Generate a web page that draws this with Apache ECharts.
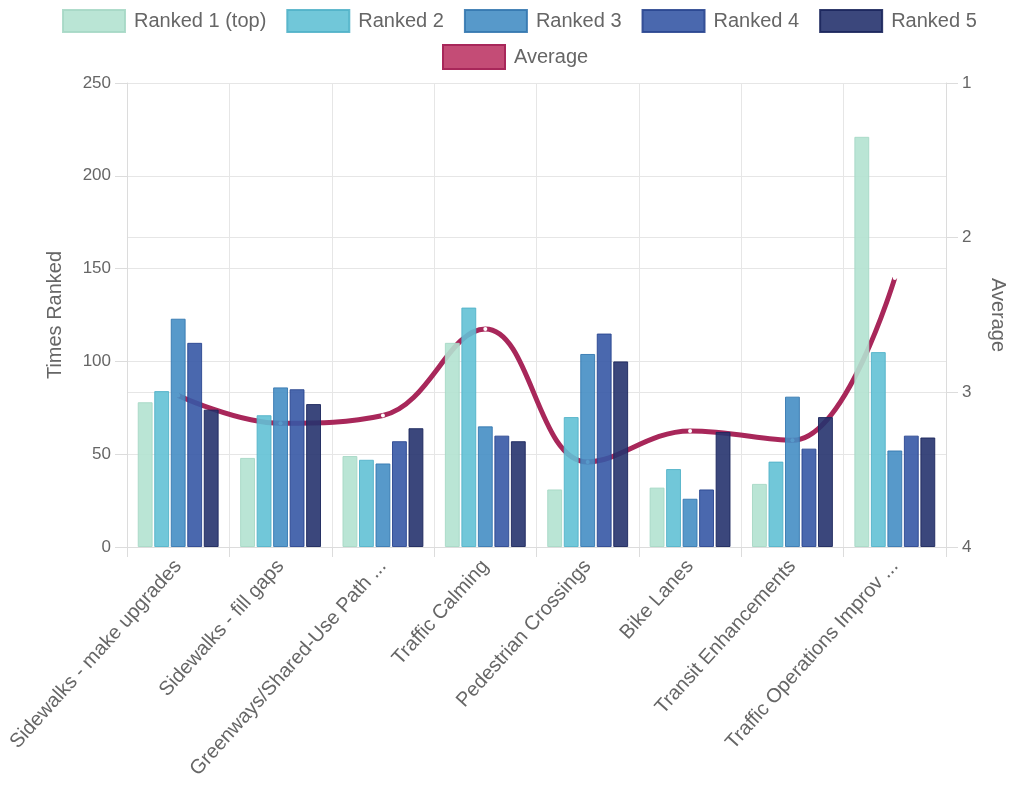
<!DOCTYPE html>
<html>
<head>
<meta charset="utf-8">
<script src="https://cdn.jsdelivr.net/npm/echarts@6/dist/echarts.min.js"></script>
<style>
	html, body { margin: 0; padding: 0; background: #fff; }
	#chart { width: 1016px; height: 797px; }
</style>
</head>
<body>
<div id="chart"></div>
<script>
var categories = ['Sidewalks - make upgrades', 'Sidewalks - fill gaps', 'Greenways/Shared-Use Path ...', 'Traffic Calming',
	'Pedestrian Crossings', 'Bike Lanes', 'Transit Enhancements', 'Traffic Operations Improv ...'];
var ranked1 = [78, 48, 49, 110, 31, 32, 34, 221];
var ranked2 = [84, 71, 47, 129, 70, 42, 46, 105];
var ranked3 = [123, 86, 45, 65, 104, 26, 81, 52];
var ranked4 = [110, 85, 57, 60, 115, 31, 53, 60];
var ranked5 = [74, 77, 64, 57, 100, 62, 70, 59];
var average = [3.02, 3.2, 3.15, 2.59, 3.45, 3.25, 3.31, 2.26];
var leftTicks = [0, 50, 100, 150, 200, 250];
var rightTicks = [1, 2, 3, 4];

var font = "'Liberation Sans', Arial, sans-serif";
var grey = '#666';

// name, values, fill, border
var barDefs = [
	['Ranked 1 (top)', ranked1, '#b3e2d0', '#a6d8c5'],
	['Ranked 2', ranked2, '#62c1d5', '#52b3c9'],
	['Ranked 3', ranked3, '#458ec4', '#3578b0'],
	['Ranked 4', ranked4, '#3658a5', '#2a4690'],
	['Ranked 5', ranked5, '#26336e', '#1b265c']
];

var series = barDefs.map(function(d) {
	return {
		name: d[0],
		type: 'bar',
		yAxisIndex: 0,
		data: d[1],
		barGap: '11%',
		barCategoryGap: '21%',
		z: 3,
		itemStyle: { color: d[2], borderColor: d[3], borderWidth: 1, opacity: 0.9 }
	};
});

series.push({
	name: 'Average',
	type: 'line',
	yAxisIndex: 1,
	data: average,
	smooth: 0.4,
	z: 2,
	symbol: 'circle',
	symbolSize: 4,
	showSymbol: true,
	lineStyle: { color: '#a8275a', width: 5 },
	itemStyle: { color: '#ffffff', borderWidth: 0 }
});

var chart = echarts.init(document.getElementById('chart'));
chart.setOption({
	animation: false,
	textStyle: { fontFamily: font },
	legend: [{
		top: 4,
		left: 57,
		itemWidth: 62,
		itemHeight: 22,
		itemGap: 20,
		textStyle: { fontSize: 20, color: grey, fontFamily: font, padding: [0, 0, 0, 4] },
		data: barDefs.map(function(d) {
			return { name: d[0], icon: 'rect', itemStyle: { color: d[2], borderColor: d[3], borderWidth: 2 } };
		})
	}, {
		top: 39,
		left: 437,
		itemWidth: 62,
		itemHeight: 24,
		textStyle: { fontSize: 20, color: grey, fontFamily: font, padding: [0, 0, 0, 4] },
		data: [{ name: 'Average', icon: 'rect', itemStyle: { color: '#c44c76', borderColor: '#a8275a', borderWidth: 2 } }]
	}],
	grid: { left: 127, right: 70, top: 83, bottom: 250, containLabel: false },
	xAxis: {
		type: 'category',
		data: categories,
		axisLine: { lineStyle: { color: '#dcdcdc' } },
		axisTick: { show: true, length: 10, lineStyle: { color: '#dcdcdc' } },
		splitLine: { show: true, lineStyle: { color: '#e6e6e6' } },
		axisLabel: { rotate: 48, fontSize: 20, color: grey, margin: 16, interval: 0 }
	},
	yAxis: [{
		type: 'value',
		min: leftTicks[0],
		max: leftTicks[leftTicks.length - 1],
		interval: 50,
		name: 'Times Ranked',
		nameLocation: 'middle',
		nameGap: 62,
		nameTextStyle: { fontSize: 20, color: grey },
		axisLine: { show: true, lineStyle: { color: '#dcdcdc' } },
		axisTick: { show: true, length: 12, lineStyle: { color: '#dcdcdc' } },
		splitLine: { lineStyle: { color: '#e6e6e6' } },
		axisLabel: { fontSize: 17, color: grey, margin: 16 }
	}, {
		type: 'value',
		min: rightTicks[0],
		max: rightTicks[rightTicks.length - 1],
		interval: 1,
		inverse: true,
		position: 'right',
		name: 'Average',
		nameLocation: 'middle',
		nameGap: 42,
		nameRotate: -90,
		nameTextStyle: { fontSize: 20, color: grey },
		axisLine: { show: true, lineStyle: { color: '#dcdcdc' } },
		axisTick: { show: true, length: 12, lineStyle: { color: '#dcdcdc' } },
		splitLine: { show: true, lineStyle: { color: '#e6e6e6' } },
		axisLabel: { fontSize: 17, color: grey, margin: 16 }
	}],
	series: series
});
</script>
</body>
</html>
